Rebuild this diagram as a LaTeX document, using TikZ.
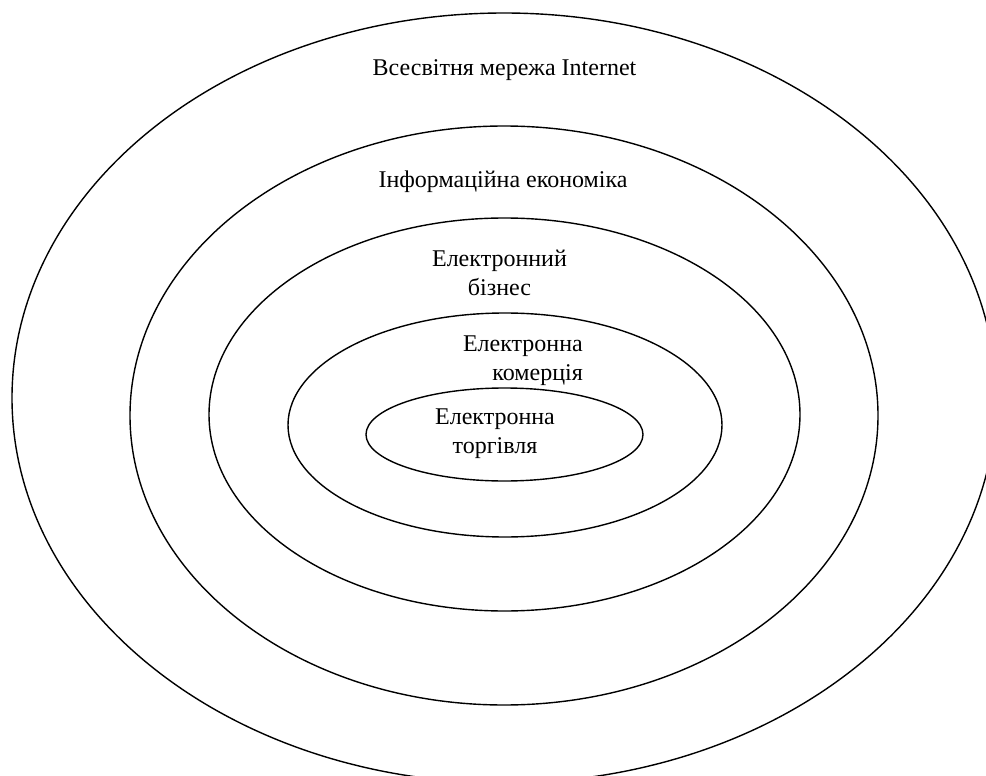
\documentclass[tikz,border=0pt]{standalone}
\usepackage{fontspec}
\setmainfont{Liberation Serif}
\begin{document}
\begin{tikzpicture}[x=1pt,y=-1pt,
  ring/.style={line width=1.4pt},
  lbl/.style={inner sep=0pt,font=\fontsize{24}{29}\selectfont,align=center}]
\useasboundingbox (0,0) rectangle (986,776);
\clip (0,0) rectangle (986,776);
\draw[ring] (504,398) ellipse [x radius=492pt, y radius=385pt];
\draw[ring] (504,415.5) ellipse [x radius=374pt, y radius=289.5pt];
\draw[ring] (504.5,414.5) ellipse [x radius=295.5pt, y radius=196.5pt];
\draw[ring] (505,425) ellipse [x radius=217pt, y radius=112pt];
\draw[ring] (504.5,434.5) ellipse [x radius=138.5pt, y radius=46.5pt];
\node[lbl] (www) at (504.5,70) {Всесвітня мережа Internet};
\node[lbl] (ie) at (503,182) {Інформаційна економіка};
\node[lbl] (eb) at (499.5,273) {Електронний\\бізнес};
\node[lbl,align=right,anchor=east] (ec) at (583,361) {Електронна\\комерція};
\node[lbl] (et) at (495,434) {Електронна\\торгівля};
\end{tikzpicture}
\end{document}
